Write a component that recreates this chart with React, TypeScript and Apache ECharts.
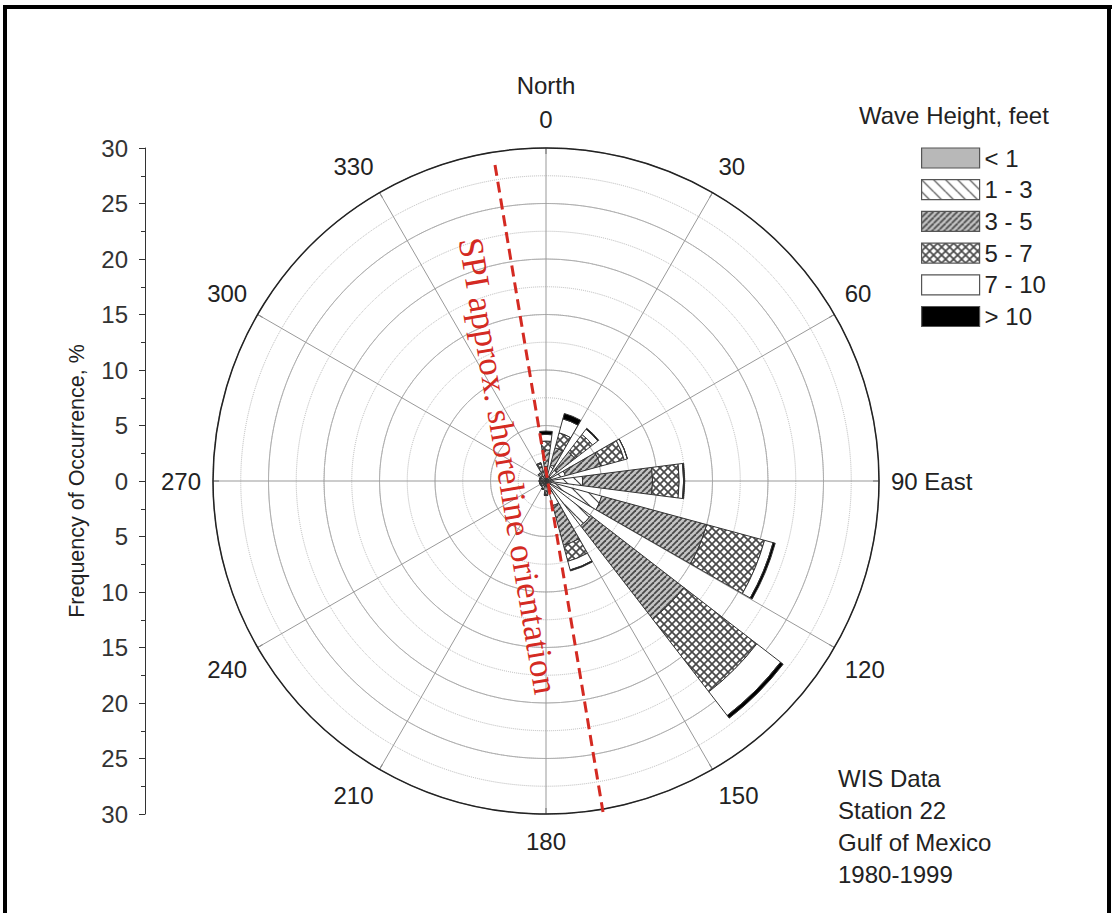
import React, { useEffect, useRef } from 'react';
import * as echarts from 'echarts';

// Direction categories (degrees from North, clockwise)
const directions = ['0', '22.5', '45', '67.5', '90', '112.5', '135', '157.5', '180', '202.5', '225', '247.5', '270', '292.5', '315', '337.5'];
const binNames = ['< 1', '1 - 3', '3 - 5', '5 - 7', '7 - 10', '> 10'];

// Frequency of occurrence (%) for each wave-height bin, per direction (stacked)
const lt1 = [0.3, 0.3, 0.3, 0.3, 0.3, 0.4, 0.4, 0.3, 0.3, 0.3, 0.2, 0.2, 0.2, 0.2, 0.2, 0.2];
const b1to3 = [1.0, 1.2, 1.0, 1.5, 3.0, 4.8, 4.7, 2.0, 0.6, 0.4, 0.3, 0.3, 0.3, 0.3, 0.4, 0.6];
const b3to5 = [1.5, 1.6, 2.0, 3.3, 6.3, 9.8, 10.6, 3.7, 0.3, 0.1, 0.1, 0.1, 0.1, 0.1, 0.2, 0.5];
const b5to7 = [0.8, 1.4, 2.0, 2.2, 2.4, 5.4, 8.3, 1.5, 0.1, 0, 0, 0, 0, 0, 0.1, 0.3];
const b7to10 = [0.6, 1.3, 0.6, 0.3, 0.4, 0.8, 2.7, 0.8, 0, 0, 0, 0, 0, 0, 0, 0.1];
const gt10 = [0.3, 0.5, 0.1, 0, 0.1, 0.2, 0.3, 0.1, 0, 0, 0, 0, 0, 0, 0, 0];
const binValues = [lt1, b1to3, b3to5, b5to7, b7to10, gt10];

const angleLabels: Record<number, string> = { 0: '{t|North}\n{t|0}', 90: '90 East' };
const infoLines = ['WIS Data', 'Station 22', 'Gulf of Mexico', '1980-1999'];
const legendTitle = 'Wave Height, feet';
const yAxisName = 'Frequency of Occurrence, %';
const shorelineLabel = 'SPI approx. shoreline orientation';

const FONT = '"Liberation Sans", Arial, sans-serif';
const FS = 24;

function tile(size: number, draw: (ctx: CanvasRenderingContext2D, s: number) => void): HTMLCanvasElement {
  const c = document.createElement('canvas');
  c.width = size;
  c.height = size;
  const ctx = c.getContext('2d')!;
  draw(ctx, size);
  return c;
}

function makeFills() {
  const sparse = tile(12, (ctx, s) => {
    ctx.fillStyle = '#ffffff';
    ctx.fillRect(0, 0, s, s);
    ctx.strokeStyle = '#444';
    ctx.lineWidth = 1.2;
    for (const x0 of [-s, 0, s]) {
      ctx.beginPath();
      ctx.moveTo(x0, 0);
      ctx.lineTo(x0 + s, s);
      ctx.stroke();
    }
  });
  const dense = tile(6, (ctx, s) => {
    ctx.fillStyle = '#c4c4c4';
    ctx.fillRect(0, 0, s, s);
    ctx.strokeStyle = '#4a4a4a';
    ctx.lineWidth = 1.8;
    for (const x0 of [-s, 0, s]) {
      ctx.beginPath();
      ctx.moveTo(x0, s);
      ctx.lineTo(x0 + s, 0);
      ctx.stroke();
    }
  });
  const cross = tile(8, (ctx, s) => {
    ctx.fillStyle = '#ffffff';
    ctx.fillRect(0, 0, s, s);
    ctx.strokeStyle = '#4a4a4a';
    ctx.lineWidth = 1.7;
    for (const x0 of [-s, 0, s]) {
      ctx.beginPath();
      ctx.moveTo(x0, 0);
      ctx.lineTo(x0 + s, s);
      ctx.stroke();
      ctx.beginPath();
      ctx.moveTo(x0, s);
      ctx.lineTo(x0 + s, 0);
      ctx.stroke();
    }
  });
  return [
    '#b8b8b8',
    { image: sparse, repeat: 'repeat' },
    { image: dense, repeat: 'repeat' },
    { image: cross, repeat: 'repeat' },
    '#ffffff',
    '#000000',
  ];
}

export default function App() {
  const ref = useRef<HTMLDivElement>(null);

  useEffect(() => {
    if (!ref.current) return;
    const chart = echarts.init(ref.current, undefined, { renderer: 'svg' });
    const fills = makeFills();

    const option: any = {
      animation: false,
      backgroundColor: '#ffffff',
      textStyle: { fontFamily: FONT },
      polar: [
        { center: [546, 481], radius: 333 },
        { center: [546, 481], radius: 333 },
      ],
      angleAxis: [
        {
          polarIndex: 0,
          type: 'value',
          min: 0,
          max: 360,
          interval: 30,
          startAngle: 90,
          clockwise: true,
          axisLine: { show: true, lineStyle: { color: '#222', width: 1.5 } },
          axisTick: { show: true, inside: true, length: 6, lineStyle: { color: '#444' } },
          splitLine: { show: true, lineStyle: { color: '#999', width: 1 } },
          axisLabel: {
            show: true,
            margin: 12,
            align: 'center',
            verticalAlign: 'middle',
            lineHeight: 31,
            fontSize: FS,
            color: '#222',
            fontFamily: FONT,
            formatter: (v: number) => angleLabels[v] ?? String(v),
            rich: {
              t: { fontSize: FS, color: '#222', fontFamily: FONT, lineHeight: 34 },
            },
          },
          z: 1,
        },
        {
          polarIndex: 1,
          type: 'category',
          data: directions,
          startAngle: 101.25,
          clockwise: true,
          boundaryGap: true,
          axisLine: { show: false },
          axisTick: { show: false },
          axisLabel: { show: false },
          splitLine: { show: false },
        },
      ],
      radiusAxis: [
        {
          polarIndex: 0,
          type: 'value',
          min: 0,
          max: 30,
          interval: 5,
          axisLine: { show: false },
          axisTick: { show: false },
          axisLabel: { show: false },
          splitLine: { show: true, lineStyle: { color: '#a8a8a8', width: 1 } },
        },
        {
          polarIndex: 1,
          type: 'value',
          min: 0,
          max: 30,
          interval: 2.5,
          axisLine: { show: false },
          axisTick: { show: false },
          axisLabel: { show: false },
          splitLine: { show: true, lineStyle: { color: '#b8b8b8', width: 1, type: 'dotted' } },
        },
      ],
      grid: { left: 145, top: 148, height: 666, width: 1 },
      xAxis: { type: 'value', show: false, min: 0, max: 1 },
      yAxis: {
        type: 'value',
        min: -30,
        max: 30,
        interval: 5,
        axisLine: { show: true, lineStyle: { color: '#333', width: 1 } },
        axisTick: { show: true, length: 6, lineStyle: { color: '#333' } },
        minorTick: { show: true, splitNumber: 2, length: 4, lineStyle: { color: '#333' } },
        splitLine: { show: false },
        axisLabel: {
          fontSize: FS,
          color: '#333',
          fontFamily: FONT,
          margin: 17,
          formatter: (v: number) => String(Math.abs(v)),
        },
        name: yAxisName,
        nameLocation: 'middle',
        nameGap: 57,
        nameRotate: 90,
        nameTextStyle: { fontSize: 21.5, color: '#222', fontFamily: FONT },
      },
      legend: {
        data: binNames,
        orient: 'vertical',
        left: 921,
        top: 146,
        padding: 0,
        itemWidth: 58,
        itemHeight: 20,
        itemGap: 7.7,
        icon: 'rect',
        selectedMode: false,
        textStyle: { fontSize: FS, color: '#222', fontFamily: FONT },
        itemStyle: { borderColor: '#555', borderWidth: 1.2 },
      },
      series: [
        ...binNames.map((name, i) => ({
          type: 'bar',
          name,
          coordinateSystem: 'polar',
          polarIndex: 1,
          stack: 'wave',
          data: binValues[i],
          barCategoryGap: '35%',
          itemStyle: { color: fills[i], borderColor: '#333', borderWidth: 1 },
          z: 3,
        })),
        { type: 'scatter', xAxisIndex: 0, yAxisIndex: 0, data: [], silent: true },
      ],
      graphic: [
        { type: 'line', shape: { x1: 3, y1: 7, x2: 1112, y2: 7 }, style: { stroke: '#000', lineWidth: 4 }, z: 10 },
        { type: 'line', shape: { x1: 5, y1: 5, x2: 5, y2: 913 }, style: { stroke: '#000', lineWidth: 4 }, z: 10 },
        { type: 'line', shape: { x1: 1109, y1: 5, x2: 1109, y2: 913 }, style: { stroke: '#000', lineWidth: 4 }, z: 10 },
        {
          type: 'line',
          shape: { x1: 495, y1: 165, x2: 603, y2: 812 },
          style: { stroke: '#d42a22', lineWidth: 3, lineDash: [11, 6] },
          z: 20,
        },
        {
          type: 'text',
          x: 508,
          y: 466,
          rotation: -1.405,
          style: {
            text: shorelineLabel,
            fill: '#d42a22',
            font: '35px "Liberation Serif", "Times New Roman", serif',
            align: 'center',
            verticalAlign: 'middle',
          },
          z: 20,
        },
        {
          type: 'text',
          x: 859,
          y: 103,
          style: { text: legendTitle, fill: '#222', font: `${FS}px ${FONT}` },
          z: 10,
        },
        {
          type: 'text',
          x: 838,
          y: 762,
          style: { text: infoLines.join('\n'), fill: '#222', font: `${FS}px ${FONT}`, lineHeight: 32 },
          z: 10,
        },
      ],
    };

    chart.setOption(option);
    return () => chart.dispose();
  }, []);

  return <div ref={ref} style={{ position: 'absolute', left: 0, top: 0, width: 1112, height: 913 }} />;
}
